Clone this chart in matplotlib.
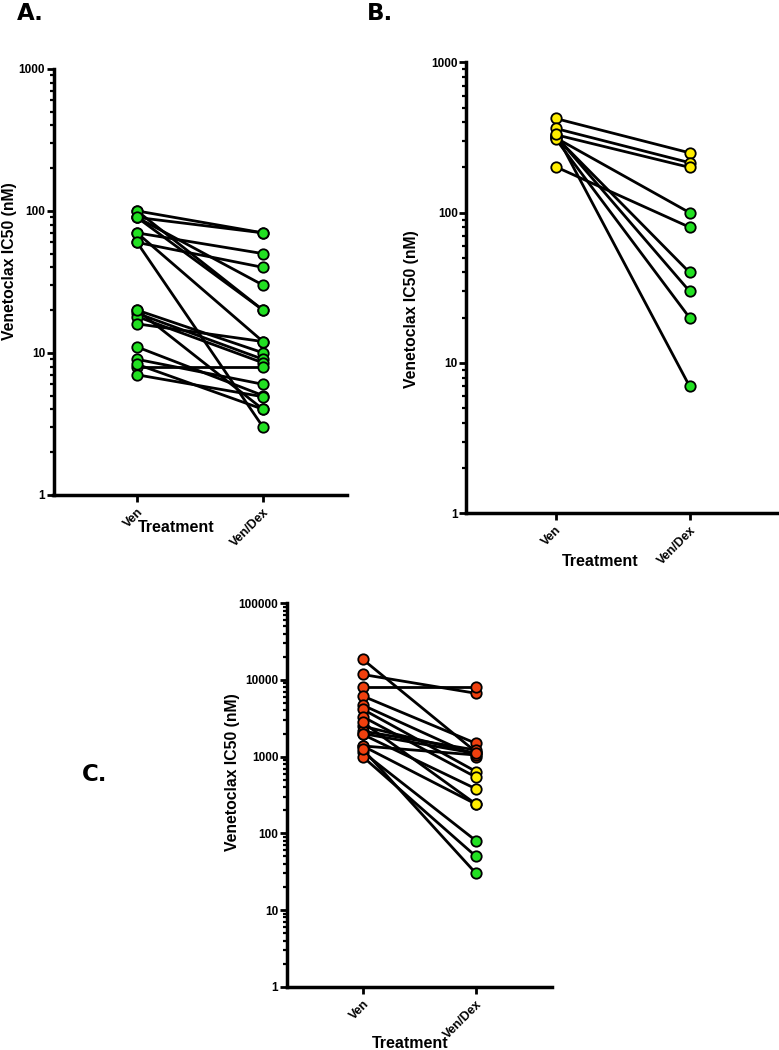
import matplotlib
matplotlib.use("Agg")
import matplotlib.pyplot as plt
from matplotlib.ticker import LogLocator, NullFormatter

plt.rcParams['font.family'] = ['Liberation Sans', 'DejaVu Sans']
plt.rcParams['font.weight'] = 'bold'

categories = ["Ven", "Ven/Dex"]

# Panel A
A_ven = [100, 90, 70, 60, 90, 100, 90, 70, 60, 20, 19, 18, 16, 20, 11, 9, 8, 8.3, 7]
A_vd = [70, 70, 50, 40, 30, 20, 20, 12, 3, 10, 9, 8.5, 12, 4, 5, 6, 8, 4, 4.9]

# Panel B
B_ven = [423, 363, 330, 315, 320, 325, 310, 335, 202]
B_vd = [250, 215, 200, 100, 40, 30, 20, 7, 80]

# Panel C
C_ven = [18600, 11800, 8150, 6170, 4700, 4150, 3320, 2500, 2150, 1950,
         1380, 1150, 1000, 1380, 2000, 2800, 1250]
C_vd = [1150, 6700, 8150, 1490, 1000, 640, 540, 1100, 1220, 380,
        1050, 80, 50, 240, 1100, 240, 30]

GREEN = '#22E022'
YELLOW = '#FFEE00'
RED = '#F0400E'


def col(v):
    if v >= 950:
        return RED
    if v >= 150:
        return YELLOW
    return GREEN


fig = plt.figure(figsize=(7.79, 10.5), dpi=100)


def make_panel(rect, ven, vd, ymax, xlims):
    ax = fig.add_axes(rect)
    for a, b in zip(ven, vd):
        ax.plot([0, 1], [a, b], color='black', lw=2.0, zorder=2,
                solid_capstyle='round')
    for a, b in zip(ven, vd):
        ax.plot([0], [a], 'o', ms=7.5, mfc=col(a), mec='black', mew=1.3, zorder=3)
        ax.plot([1], [b], 'o', ms=7.5, mfc=col(b), mec='black', mew=1.3, zorder=3)
    ax.set_yscale('log')
    ax.set_ylim(1, ymax)
    ax.set_xlim(*xlims)
    for s in ['top', 'right']:
        ax.spines[s].set_visible(False)
    for s in ['left', 'bottom']:
        ax.spines[s].set_linewidth(2.5)
    majors = []
    v = 1
    while v <= ymax:
        majors.append(v)
        v *= 10
    ax.set_yticks(majors)
    ax.set_yticklabels([str(m) for m in majors], fontsize=8.5, fontweight='bold')
    ax.yaxis.set_minor_locator(LogLocator(base=10, subs=range(2, 10)))
    ax.yaxis.set_minor_formatter(NullFormatter())
    ax.tick_params(axis='y', which='major', length=5, width=2, pad=1)
    ax.tick_params(axis='y', which='minor', length=3, width=1.6)
    ax.set_xticks([0, 1])
    ax.set_xticklabels(categories, rotation=45, ha='right', rotation_mode='anchor',
                       fontsize=9, fontweight='bold')
    ax.tick_params(axis='x', length=5, width=2, pad=3)
    return ax


W, H = 779.0, 1050.0


def rect(l, r, t, b):
    return [l / W, 1 - b / H, (r - l) / W, (b - t) / H]


axA = make_panel(rect(53.5, 347, 69, 494.7), A_ven, A_vd, 1000, (-0.663, 1.667))
axB = make_panel(rect(466, 782, 62.3, 513.3), B_ven, B_vd, 1000, (-0.669, 1.69))
axC = make_panel(rect(286.7, 551.7, 603.3, 986.7), C_ven, C_vd, 100000, (-0.671, 1.668))


def ftext(x, y, s, **kw):
    fig.text(x / W, 1 - y / H, s, **kw)


ylab = "Venetoclax IC50 (nM)"
ftext(10, 261, ylab, rotation=90, ha='center', va='center', fontsize=11.3, fontweight='bold')
ftext(411, 309, ylab, rotation=90, ha='center', va='center', fontsize=11.3, fontweight='bold')
ftext(233, 772, ylab, rotation=90, ha='center', va='center', fontsize=11.3, fontweight='bold')

ftext(176, 528, "Treatment", ha='center', va='center', fontsize=11.5, fontweight='bold')
ftext(600, 562, "Treatment", ha='center', va='center', fontsize=11.5, fontweight='bold')
ftext(410, 1043, "Treatment", ha='center', va='center', fontsize=11.5, fontweight='bold')

ftext(17, 20, "A.", ha='left', va='baseline', fontsize=16.5, fontweight='heavy',
      family='DejaVu Sans')
ftext(367, 20, "B.", ha='left', va='baseline', fontsize=16.5, fontweight='heavy',
      family='DejaVu Sans')
ftext(82, 781, "C.", ha='left', va='baseline', fontsize=16.5, fontweight='heavy',
      family='DejaVu Sans')

fig.savefig("out.png", dpi=100)
